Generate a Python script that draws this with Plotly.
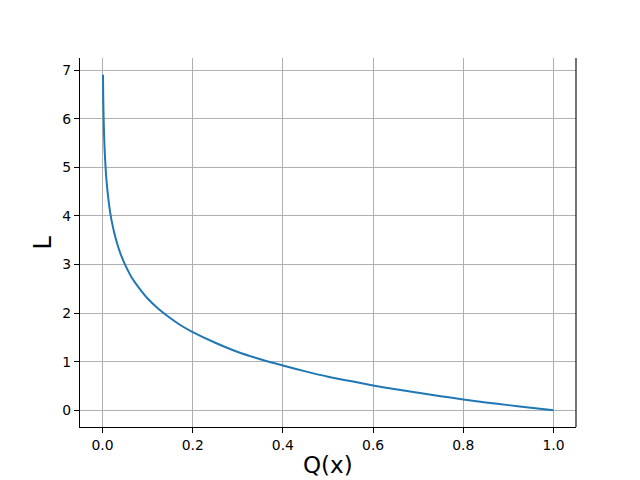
import plotly.graph_objects as go

# Values
q_values = [0.001, 0.0015, 0.002, 0.003, 0.004, 0.005, 0.0075, 0.01, 0.015, 0.02,
            0.03, 0.04, 0.05, 0.065, 0.08, 0.1, 0.125, 0.15, 0.175, 0.2,
            0.25, 0.3, 0.35, 0.4, 0.45, 0.5, 0.55, 0.6, 0.65, 0.7,
            0.75, 0.8, 0.85, 0.9, 0.95, 1.0]
l_values = [6.91, 6.50, 6.21, 5.81, 5.52, 5.30, 4.89, 4.61, 4.20, 3.91,
            3.51, 3.22, 3.00, 2.73, 2.53, 2.30, 2.08, 1.90, 1.74, 1.61,
            1.39, 1.20, 1.05, 0.92, 0.80, 0.69, 0.60, 0.51, 0.43, 0.36,
            0.29, 0.22, 0.16, 0.105, 0.05, 0.0]

x_ticks = [0.0, 0.2, 0.4, 0.6, 0.8, 1.0]
x_tick_labels = ["0.0", "0.2", "0.4", "0.6", "0.8", "1.0"]
y_ticks = [0, 1, 2, 3, 4, 5, 6, 7]
y_tick_labels = ["0", "1", "2", "3", "4", "5", "6", "7"]

fig = go.Figure()
fig.add_trace(go.Scatter(x=q_values, y=l_values, mode="lines", line_shape="spline",
                         line=dict(color="#1f77b4", width=2, smoothing=0.6),
                         showlegend=False))

font = "DejaVu Sans"
fig.update_layout(
    width=640, height=480,
    margin=dict(l=80, r=64, t=58, b=53),
    paper_bgcolor="white", plot_bgcolor="white",
    font=dict(family=font, size=13.9, color="black"),
    xaxis=dict(range=[-0.04995, 1.04995], tickvals=x_ticks, ticktext=x_tick_labels,
               showgrid=True, gridcolor="#b0b0b0", gridwidth=1.1,
               showline=True, linecolor="black", linewidth=1.1,
               ticks="outside", ticklen=5, tickwidth=1.1, tickcolor="black",
               zeroline=False),
    yaxis=dict(range=[-0.3454, 7.2535], tickvals=y_ticks, ticktext=y_tick_labels,
               showgrid=True, gridcolor="#b0b0b0", gridwidth=1.1,
               showline=True, linecolor="black", linewidth=1.1,
               ticks="outside", ticklen=5, tickwidth=1.1, tickcolor="black",
               zeroline=False),
    shapes=[dict(type="line", xref="paper", yref="paper", x0=1, x1=1, y0=0, y1=1,
                 line=dict(color="black", width=1.1))],
    annotations=[
        dict(text="Q(x)", xref="paper", yref="paper", x=0.5, y=-0.103,
             xanchor="center", yanchor="middle", showarrow=False,
             font=dict(family=font, size=23, color="black")),
        dict(text="L", xref="paper", yref="paper", x=-0.0746, y=0.5,
             xanchor="center", yanchor="middle", textangle=-90, showarrow=False,
             font=dict(family=font, size=24, color="black")),
    ],
)

fig.write_html("out.html", config={"displayModeBar": False},
               post_script="document.body.style.margin='0';document.body.style.overflow='hidden';")
